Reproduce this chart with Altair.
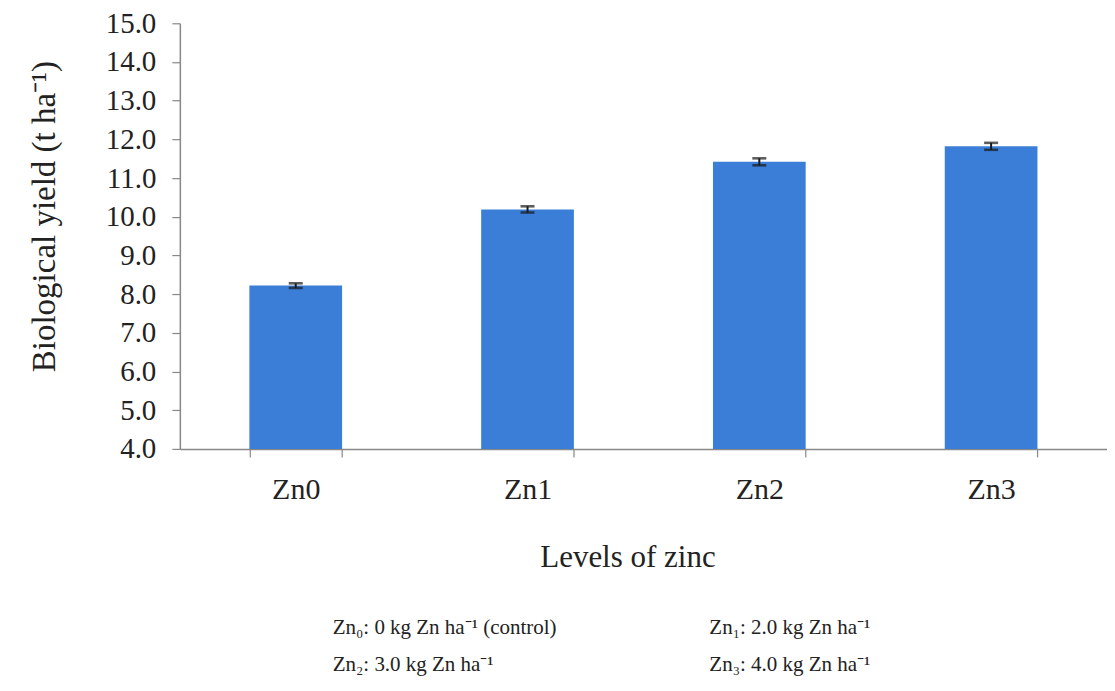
import altair as alt
import pandas as pd

categories = ["Zn0", "Zn1", "Zn2", "Zn3"]
yield_values = [8.22, 10.19, 11.42, 11.82]
errors = [0.06, 0.08, 0.09, 0.09]
y_ticks = [4, 5, 6, 7, 8, 9, 10, 11, 12, 13, 14, 15]
footnotes = [
    "Zn\u2080: 0 kg Zn ha\u207b\u00b9 (control)",
    "Zn\u2081: 2.0 kg Zn ha\u207b\u00b9",
    "Zn\u2082: 3.0 kg Zn ha\u207b\u00b9",
    "Zn\u2083: 4.0 kg Zn ha\u207b\u00b9",
]

df = pd.DataFrame({"level": categories, "yield": yield_values, "err": errors})
df["lo"] = df["yield"] - df["err"]
df["hi"] = df["yield"] + df["err"]

FONT = "Liberation Serif"
TXT = "#222222"
W, H = 928, 426

x_scale = alt.Scale(paddingInner=0.6, paddingOuter=0.3)
y_scale = alt.Scale(domain=[4, 15], nice=False, zero=False)

x_axis = alt.Axis(
    title="Levels of zinc",
    labelAngle=0,
    tickBand="extent",
    tickSize=8,
    labelPadding=18,
    titlePadding=38,
    titleX=448,
    labelOverlap=False,
    labelFont=FONT, titleFont=FONT,
    labelFontSize=30, titleFontSize=31,
    labelColor=TXT, titleColor=TXT, titleFontWeight="normal",
)
y_axis = alt.Axis(
    title="Biological yield (t ha\u207b\u00b9)",
    values=y_ticks,
    format=".1f",
    tickSize=8,
    labelPadding=16,
    titlePadding=44,
    titleY=193,
    grid=False,
    labelOverlap=False,
    labelFont=FONT, titleFont=FONT,
    labelFontSize=29, titleFontSize=33,
    labelColor=TXT, titleColor=TXT, titleFontWeight="normal",
)

def X():
    return alt.X("level:N", sort=categories, scale=x_scale, axis=x_axis)

bars = alt.Chart(df).mark_bar(color="#3B7ED8").encode(
    x=X(),
    y=alt.Y("yield:Q", scale=y_scale, axis=y_axis),
    y2=alt.datum(4),
)

rule = alt.Chart(df).mark_rule(color="#1a1a1a", strokeWidth=2).encode(
    x=X(),
    y=alt.Y("lo:Q", scale=y_scale, axis=y_axis),
    y2="hi:Q",
)
cap_lo = alt.Chart(df).mark_tick(color="#1a1a1a", size=14, thickness=2.6, orient="horizontal").encode(
    x=X(),
    y=alt.Y("lo:Q", scale=y_scale, axis=y_axis),
)
cap_hi = alt.Chart(df).mark_tick(color="#1a1a1a", size=14, thickness=2.6, orient="horizontal").encode(
    x=X(),
    y=alt.Y("hi:Q", scale=y_scale, axis=y_axis),
)

main = alt.layer(bars, rule, cap_lo, cap_hi)

notes_df = pd.DataFrame({
    "note": footnotes,
    "px": [153, 530, 153, 530],
    "py": [605, 605, 642, 642],
})
notes = alt.Chart(notes_df).mark_text(
    align="left", baseline="middle", font=FONT, fontSize=21, color=TXT
).encode(
    text="note:N",
    x=alt.X("px:Q", scale=None, axis=None),
    y=alt.Y("py:Q", scale=None, axis=None),
)

chart = alt.layer(main, notes).resolve_scale(x="independent", y="independent").resolve_axis(
    x="independent", y="independent"
).properties(
    width=W, height=H,
    padding={"left": 172, "top": 15, "right": 0, "bottom": 230},
    autosize=alt.AutoSizeParams(type="none"),
    background="white",
).configure_view(stroke=None).configure_axis(
    domainColor="#888888", tickColor="#888888", domainWidth=1.5, tickWidth=1.2,
)

chart.save("out.html", embed_options={"renderer": "svg", "actions": False})
